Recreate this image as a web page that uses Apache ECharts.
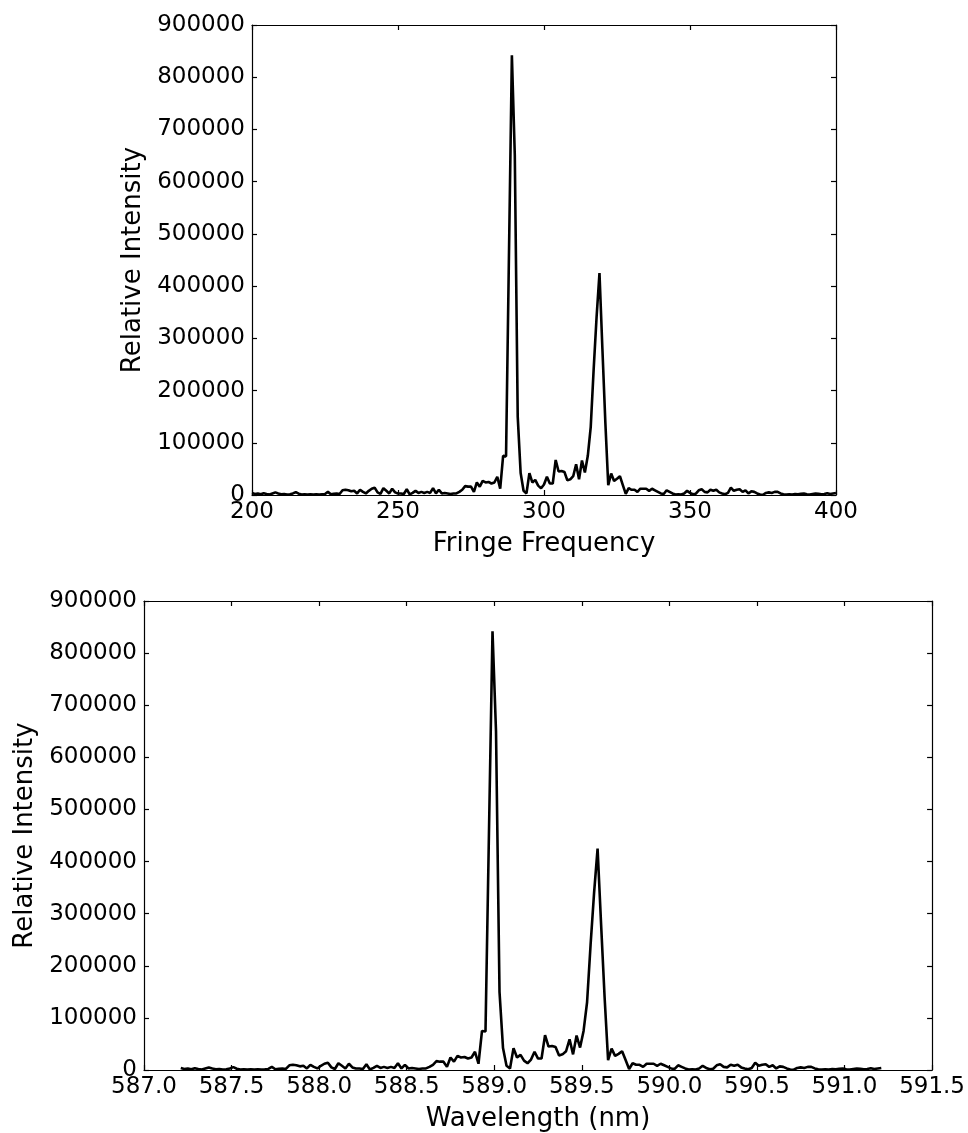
<!DOCTYPE html>
<html>
<head>
<meta charset="utf-8">
<script src="https://cdn.jsdelivr.net/npm/echarts@6/dist/echarts.min.js"></script>
<style>
  html, body { margin: 0; padding: 0; background: #fff; }
  #chart { width: 968px; height: 1133px; }
</style>
</head>
<body>
<div id="chart"></div>
<script>
// ---- data ----
const FREQ_START = 200;           // first fringe frequency sample
const WL_START = 587.21;          // wavelength (nm) of first sample
const WL_PER_FREQ = 0.02;         // nm per fringe-frequency unit

const intensity = [
  4000, 2000, 3000, 1500, 3500, 2000, 1000, 3000, 5000, 3000,
  1500, 2000, 1000, 1500, 3000, 5500, 2500, 1000, 1500, 1000,
  1500, 1000, 1500, 1000, 1500, 2000, 6000, 1500, 2500, 3000,
  2000, 9000, 10000, 9000, 7000, 8000, 3000, 10000, 6000, 3000,
  8000, 12000, 14000, 5000, 2000, 13000, 8000, 3000, 12000, 5000,
  3000, 3000, 2000, 11000, 1000, 4000, 8000, 4000, 6000, 4000,
  6000, 4000, 13000, 3000, 10000, 3000, 4000, 3000, 2000, 3000,
  3000, 6000, 10000, 17000, 16000, 16000, 6000, 24000, 16000, 27000,
  24000, 25000, 22000, 24000, 35000, 12000, 75000, 74000, 460000, 842000,
  650000, 150000, 42000, 8000, 3000, 42000, 24000, 29000, 18000, 13000,
  20000, 35000, 22000, 22000, 67000, 45000, 46000, 44000, 28000, 30000,
  36000, 59000, 30000, 66000, 43000, 75000, 130000, 240000, 340000, 425000,
  280000, 140000, 19000, 41000, 27000, 31000, 36000, 19000, 2000, 13000,
  10000, 10000, 6000, 12000, 12000, 12000, 8000, 12000, 9000, 6000,
  3000, 2000, 9000, 6000, 3000, 1000, 1500, 1000, 3000, 8000,
  4000, 1500, 2500, 9000, 11000, 6000, 5000, 10000, 8000, 10000,
  5000, 3000, 1500, 4000, 14000, 8000, 10000, 11000, 6000, 9000,
  3000, 7000, 6000, 3000, 1000, 500, 4000, 5000, 4000, 6000,
  6000, 3000, 1500, 1000, 1500, 1000, 2000, 1500, 2500, 3000,
  1500, 1000, 2000, 3000, 2500, 1500, 2000, 3500, 2000, 3000, 4000
];

const freqTicks = { min: 200, max: 400, interval: 50 };
const wlTicks = { min: 587.0, max: 591.5, interval: 0.5 };
const yTicks = { min: 0, max: 900000, interval: 100000 };

const freq = intensity.map((_, i) => FREQ_START + i);
const wavelength = freq.map(f => WL_START + (f - FREQ_START) * WL_PER_FREQ);

// ---- chart ----
const FONT = 'DejaVu Sans';
const tickFont = { color: '#000', fontFamily: FONT, fontSize: 23 };
const nameFont = { color: '#000', fontFamily: FONT, fontSize: 26 };
const lineStyle = { color: '#000', width: 1.2 };

function mainX(grid, t, name, fmt) {
  return {
    type: 'value', gridIndex: grid, position: 'bottom',
    min: t.min, max: t.max, interval: t.interval,
    name: name, nameLocation: 'middle', nameGap: 36, nameTextStyle: nameFont,
    axisLine: { show: true, lineStyle: lineStyle, onZero: false },
    axisTick: { show: true, inside: true, length: 5, lineStyle: lineStyle },
    axisLabel: Object.assign({ margin: 6, showMinLabel: true, showMaxLabel: true, formatter: fmt }, tickFont),
    splitLine: { show: false }
  };
}
function topX(grid, t) {
  return {
    type: 'value', gridIndex: grid, position: 'top',
    min: t.min, max: t.max, interval: t.interval,
    axisLine: { show: true, lineStyle: lineStyle, onZero: false },
    axisTick: { show: true, inside: true, length: 5, lineStyle: lineStyle },
    axisLabel: { show: false }, splitLine: { show: false }
  };
}
function mainY(grid) {
  return {
    type: 'value', gridIndex: grid, position: 'left',
    min: yTicks.min, max: yTicks.max, interval: yTicks.interval,
    name: 'Relative Intensity', nameLocation: 'middle', nameGap: 98, nameTextStyle: nameFont,
    axisLine: { show: true, lineStyle: lineStyle, onZero: false },
    axisTick: { show: true, inside: true, length: 5, lineStyle: lineStyle },
    axisLabel: Object.assign({ margin: 7, showMinLabel: true, showMaxLabel: true, formatter: v => String(v) }, tickFont),
    splitLine: { show: false }
  };
}
function rightY(grid) {
  return {
    type: 'value', gridIndex: grid, position: 'right',
    min: yTicks.min, max: yTicks.max, interval: yTicks.interval,
    axisLine: { show: true, lineStyle: lineStyle, onZero: false },
    axisTick: { show: true, inside: true, length: 5, lineStyle: lineStyle },
    axisLabel: { show: false }, splitLine: { show: false }
  };
}

const chart = echarts.init(document.getElementById('chart'), null, { renderer: 'canvas' });
chart.setOption({
  animation: false,
  backgroundColor: '#fff',
  grid: [
    { left: 252, right: 132, top: 25, height: 470, containLabel: false },
    { left: 144, right: 35, top: 601, height: 471, containLabel: false }
  ],
  xAxis: [
    mainX(0, freqTicks, 'Fringe Frequency', v => String(v)),
    topX(0, freqTicks),
    mainX(1, wlTicks, 'Wavelength (nm)', v => v.toFixed(1)),
    topX(1, wlTicks)
  ],
  yAxis: [mainY(0), rightY(0), mainY(1), rightY(1)],
  series: [
    {
      type: 'line', xAxisIndex: 0, yAxisIndex: 0,
      data: freq.map((f, i) => [f, intensity[i]]),
      showSymbol: false, lineStyle: { color: '#000', width: 2.6 }, z: 5
    },
    {
      type: 'line', xAxisIndex: 2, yAxisIndex: 2,
      data: wavelength.map((w, i) => [w, intensity[i]]),
      showSymbol: false, lineStyle: { color: '#000', width: 2.6 }, z: 5
    }
  ]
});
</script>
</body>
</html>
